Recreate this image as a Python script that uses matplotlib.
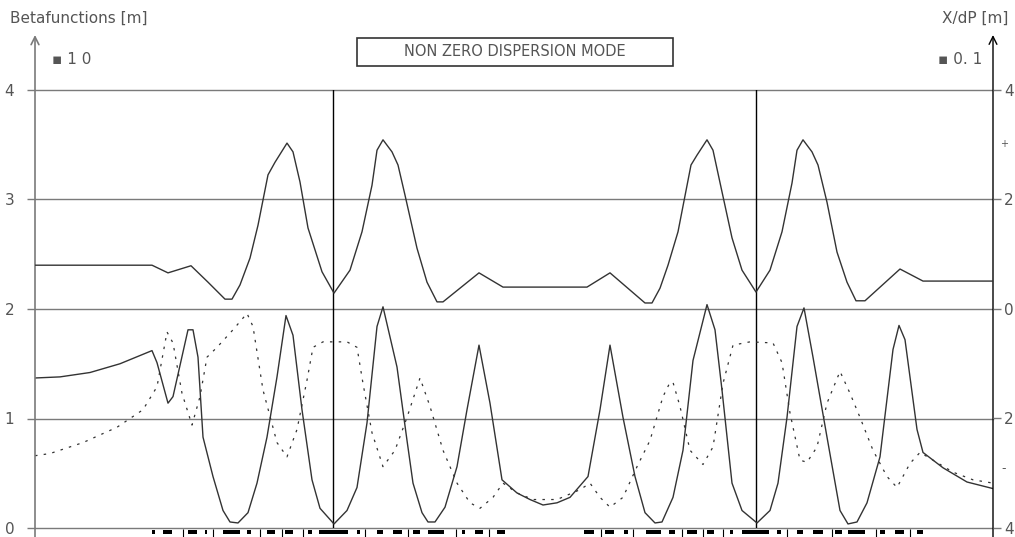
import matplotlib
matplotlib.use("Agg")
import matplotlib.pyplot as plt
from matplotlib.patches import Rectangle

# position along the line [m]
s_disp = [0, 11.7, 13.3, 15.6, 17.3, 19.0, 19.7, 20.5, 21.5, 22.3, 23.3, 24.0, 25.2, 25.8,
          26.5, 27.3, 28.7, 29.9, 31.5, 32.7, 33.7, 34.2, 34.8, 35.7, 36.3, 37.0, 38.2,
          39.2, 40.2, 40.8, 44.4, 46.8, 55.2, 57.5, 61.0, 61.7, 62.5, 63.3, 64.3, 65.6,
          66.2, 67.2, 67.8, 68.7, 69.7, 70.7, 72.1, 73.5, 74.7, 75.7, 76.2, 76.8, 77.7,
          78.3, 79.2, 80.2, 81.2, 82.1, 83.0, 86.5, 88.8, 95.8]
# dispersion (right axis, x0.1 m)
disp = [0.80, 0.80, 0.66, 0.79, 0.49, 0.18, 0.18, 0.44, 0.93, 1.53, 2.45, 2.68, 3.03, 2.87,
        2.32, 1.48, 0.68, 0.29, 0.71, 1.41, 2.26, 2.90, 3.09, 2.87, 2.63, 2.08, 1.11,
        0.49, 0.13, 0.13, 0.66, 0.40, 0.40, 0.66, 0.11, 0.11, 0.38, 0.80, 1.41, 2.63,
        2.81, 3.09, 2.90, 2.14, 1.30, 0.71, 0.31, 0.71, 1.41, 2.30, 2.90, 3.09, 2.87,
        2.63, 1.95, 1.04, 0.49, 0.15, 0.15, 0.73, 0.51, 0.51]

s_bx = [0, 2.5, 5.5, 8.5, 11.7, 12.2, 13.3, 13.8, 15.3, 15.8, 16.3, 16.8, 17.8, 18.8, 19.5,
        20.3, 21.3, 22.2, 23.2, 24.2, 25.1, 25.8, 26.7, 27.7, 28.5, 29.9, 31.2, 32.2,
        33.2, 34.2, 34.8, 36.2, 37.2, 37.8, 38.7, 39.3, 40.0, 41.0, 42.2, 43.2, 44.4,
        45.5, 46.7, 48.2, 49.5, 50.8, 52.2, 53.5, 55.3, 56.5, 57.5, 58.8, 60.0, 61.0,
        62.0, 62.7, 63.8, 64.8, 65.8, 67.2, 68.0, 68.7, 69.7, 70.7, 72.2, 73.5, 74.3,
        75.2, 76.2, 76.9, 77.8, 79.2, 80.5, 81.3, 82.2, 83.2, 84.5, 85.8, 86.4, 87.0,
        88.2, 88.8, 90.8, 93.2, 95.8]
# beta x (x10 m)
beta_x = [1.37, 1.38, 1.42, 1.50, 1.62, 1.51, 1.14, 1.20, 1.81, 1.81, 1.56, 0.83, 0.47, 0.16,
          0.055, 0.046, 0.14, 0.41, 0.83, 1.38, 1.94, 1.76, 1.08, 0.44, 0.18, 0.037, 0.16,
          0.37, 0.96, 1.84, 2.02, 1.47, 0.80, 0.41, 0.14, 0.055, 0.055, 0.19, 0.56, 1.08,
          1.67, 1.14, 0.44, 0.32, 0.26, 0.21, 0.23, 0.28, 0.47, 1.08, 1.67, 1.01, 0.47,
          0.14, 0.046, 0.055, 0.28, 0.71, 1.53, 2.04, 1.81, 1.26, 0.41, 0.16, 0.046, 0.16,
          0.41, 1.01, 1.84, 2.01, 1.56, 0.83, 0.16, 0.037, 0.055, 0.23, 0.65, 1.63, 1.85,
          1.72, 0.90, 0.69, 0.55, 0.42, 0.36]

s_by = [0, 1.5, 4.8, 8.2, 10.8, 12.2, 13.2, 13.8, 14.7, 15.7, 16.5, 17.2, 18.2, 19.8, 21.2,
        21.8, 22.8, 24.2, 25.2, 26.2, 27.2, 27.8, 28.8, 30.2, 31.2, 32.2, 32.8, 33.7,
        34.8, 36.0, 37.2, 38.5, 39.5, 40.8, 42.2, 43.5, 44.5, 45.8, 46.8, 48.2, 49.8,
        52.2, 54.5, 55.5, 56.5, 57.5, 58.8, 60.2, 61.5, 62.8, 63.5, 63.8, 64.5, 65.5,
        66.8, 67.8, 68.8, 69.8, 71.5, 73.8, 74.7, 75.5, 76.5, 77.2, 78.2, 79.2, 80.5,
        81.5, 82.5, 83.8, 85.2, 86.2, 87.5, 88.5, 89.8, 91.8, 93.8, 95.8]
# beta y (x10 m)
beta_y = [0.66, 0.68, 0.78, 0.92, 1.08, 1.29, 1.79, 1.69, 1.23, 0.94, 1.20, 1.56, 1.65, 1.81,
          1.96, 1.84, 1.26, 0.78, 0.65, 0.90, 1.35, 1.65, 1.70, 1.70, 1.70, 1.65, 1.32,
          0.87, 0.56, 0.71, 1.01, 1.37, 1.11, 0.71, 0.41, 0.23, 0.18, 0.28, 0.41, 0.32,
          0.26, 0.26, 0.35, 0.41, 0.28, 0.19, 0.28, 0.56, 0.80, 1.20, 1.33, 1.33, 1.11,
          0.71, 0.58, 0.74, 1.32, 1.67, 1.70, 1.69, 1.51, 1.05, 0.62, 0.60, 0.74, 1.14,
          1.43, 1.23, 1.01, 0.71, 0.47, 0.37, 0.59, 0.69, 0.62, 0.51, 0.44, 0.41]

# magnet blocks (start, end) and thin markers
mag_start = [11.7, 12.8, 15.3, 17.0, 18.8, 21.2, 23.2, 25.0, 27.3, 28.4, 32.2, 34.2, 35.8,
             37.8, 39.3, 42.7, 44.0, 46.2, 54.9, 57.0, 58.9, 61.1, 63.4, 65.2, 67.2, 69.5,
             70.7, 74.2, 76.2, 77.8, 80.0, 81.3, 84.5, 86.0, 88.2]
mag_end = [12.0, 13.7, 16.2, 17.2, 20.5, 21.6, 24.0, 25.8, 27.7, 31.3, 32.5, 34.8, 36.7,
           38.5, 40.9, 43.0, 44.8, 47.0, 55.9, 57.9, 59.3, 62.6, 64.0, 66.2, 67.9, 69.8,
           73.4, 74.6, 76.8, 78.8, 80.7, 83.0, 85.0, 86.9, 88.8]
mark_s = [14.8, 17.8, 22.5, 24.7, 26.8, 33.0, 37.3, 42.1, 45.4, 56.6, 59.8, 64.7, 66.8,
          68.8, 75.2, 79.7, 84.1, 87.5]

ip_s = [29.8, 72.1]

left_ticks = [0, 1, 2, 3, 4]
right_ticks = [-4, -2, 0, 2, 4]
right_labels = ["4", "2", "0", "2", "4"]

txt = "#555555"
line = "#333333"
grid = "#7a7a7a"

fig = plt.figure(figsize=(10.15, 5.37), dpi=100)
ax = fig.add_axes([35 / 1015, 9 / 537, 958 / 1015, 438 / 537])
ax.set_xlim(0, 95.8)
ax.set_ylim(0, 4)
for sp in ax.spines.values():
    sp.set_visible(False)
ax.set_xticks([])
ax.set_yticks(left_ticks)
ax.tick_params(axis="y", length=6, width=1, color=grid, labelcolor=txt,
               labelsize=11, pad=9)

for y in left_ticks:
    ax.axhline(y, color=grid, lw=1, zorder=1, clip_on=False)
for x in ip_s:
    ax.axvline(x, color="black", lw=1, zorder=2)

ax2 = ax.twinx()
ax2.set_ylim(-4, 4)
for sp in ax2.spines.values():
    sp.set_visible(False)
ax2.set_yticks(right_ticks)
ax2.set_yticklabels(right_labels)
ax2.tick_params(axis="y", length=6, width=1, color=grid, labelcolor=txt,
                labelsize=11, pad=2)

ax2.plot(s_disp, disp, color=line, lw=1)
ax.plot(s_bx, beta_x, color=line, lw=1)
ax.plot(s_by, beta_y, color=line, lw=0.9, ls=(0, (2, 5)))

# magnets below the axis
ax.bar(mag_start, [0.035] * len(mag_start),
       width=[e - b for b, e in zip(mag_start, mag_end)],
       bottom=-0.055, align="edge", color="black", clip_on=False)
ax.vlines(mark_s, -0.08, -0.005, color="black", lw=0.8, clip_on=False)

# axes with arrows
top = 1 + 55 / 438
ax.annotate("", xy=(0, top), xytext=(0, -0.03), xycoords="axes fraction",
            arrowprops=dict(arrowstyle="->", color=grid, lw=1.2,
                            mutation_scale=14, shrinkA=0, shrinkB=0))
ax.annotate("", xy=(1, top), xytext=(1, -0.03), xycoords="axes fraction",
            arrowprops=dict(arrowstyle="->", color="black", lw=1,
                            mutation_scale=14, shrinkA=0, shrinkB=0))

fig.text(10 / 1015, 1 - 18 / 537, "Betafunctions [m]", color=txt, fontsize=11,
         va="center", ha="left")
fig.text(1008 / 1015, 1 - 18 / 537, "X/dP [m]", color=txt, fontsize=11,
         va="center", ha="right")
fig.text(52 / 1015, 1 - 60 / 537, "\u25aa 1 0", color=txt, fontsize=11,
         va="center", ha="left")
fig.text(982 / 1015, 1 - 60 / 537, "\u25aa 0. 1", color=txt, fontsize=11,
         va="center", ha="right")
fig.text(1004 / 1015, 1 - 144 / 537, "+", color=txt, fontsize=7,
         va="center", ha="center")
fig.text(1004 / 1015, 1 - 469 / 537, "-", color=txt, fontsize=9,
         va="center", ha="center")

fig.patches.append(Rectangle((357 / 1015, 1 - 66 / 537), 316 / 1015, 28 / 537,
                             transform=fig.transFigure, fill=False,
                             edgecolor=line, lw=1.2))
fig.text(515 / 1015, 1 - 52 / 537, "NON ZERO DISPERSION MODE", color=txt,
         fontsize=10.5, va="center", ha="center")

fig.savefig("out.png", dpi=100)
